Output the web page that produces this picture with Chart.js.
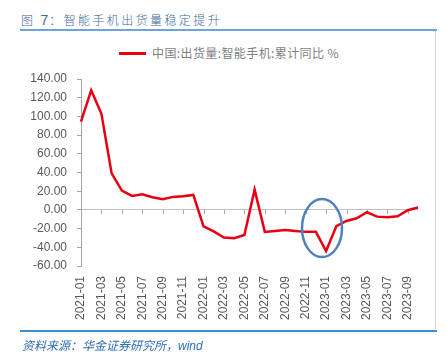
<!DOCTYPE html>
<html><head><meta charset="utf-8">
<script src="https://cdn.jsdelivr.net/npm/chart.js@4/dist/chart.umd.min.js"></script>
<style>
html,body{margin:0;padding:0;background:#fff;width:446px;height:362px;overflow:hidden;font-family:"Liberation Sans",Arial,sans-serif;}
#title{position:absolute;left:21px;top:11px;font-size:12px;color:#4069a0;letter-spacing:2.4px;white-space:nowrap;font-weight:300;font-family:"Noto Sans CJK SC","Liberation Sans",sans-serif;}
#title b{font-family:"Liberation Sans",Arial,sans-serif;font-size:14px;letter-spacing:1px;}
#topline{position:absolute;left:20px;top:29px;width:417px;height:2px;background:#6aa6d8;}
#botline{position:absolute;left:20px;top:330px;width:417px;height:2px;background:#3d8fd1;}
#vline{position:absolute;left:435px;top:31px;width:1px;height:298px;background:#d0d0d0;}
#src{position:absolute;left:22px;top:336px;font-size:12px;color:#2f6db5;font-style:italic;white-space:nowrap;font-family:"Noto Sans CJK SC","Liberation Sans",sans-serif;}
#src i{font-family:"Liberation Sans",Arial,sans-serif;}
#legend{position:absolute;left:119px;top:44px;font-size:12px;color:#7f7f7f;white-space:nowrap;font-family:"Noto Sans CJK SC",sans-serif;letter-spacing:0.4px;}
#legend span.sw{display:inline-block;width:27px;height:3px;background:#e60012;vertical-align:middle;margin-right:6px;position:relative;top:-1px;}
canvas{position:absolute;left:0;top:0;}
</style></head>
<body>
<div id="title">图 <b>7</b>：智能手机出货量稳定提升</div>
<div id="topline"></div>
<div id="vline"></div>
<div id="legend"><span class="sw"></span>中国:出货量:智能手机:累计同比 %</div>
<canvas id="c" width="446" height="362"></canvas>
<div id="botline"></div>
<div id="src">资料来源：华金证券研究所，<i>wind</i></div>
<script>
const categories = ["2021-01","2021-02","2021-03","2021-04","2021-05","2021-06","2021-07","2021-08","2021-09","2021-10","2021-11","2021-12",
"2022-01","2022-02","2022-03","2022-04","2022-05","2022-06","2022-07","2022-08","2022-09","2022-10","2022-11","2022-12",
"2023-01","2023-02","2023-03","2023-04","2023-05","2023-06","2023-07","2023-08","2023-09","2023-10"];
const seriesName = "中国:出货量:智能手机:累计同比 %";
const values = [94.4,128,102.7,39,20.6,15,16.7,13.5,11.3,13.9,14.6,16,
-17.5,-22.9,-29.6,-30.3,-26.8,21.7,-23.5,-22.5,-21.4,-22.5,-23.5,-23.5,
-44,-17.5,-11.8,-9,-2.5,-7.2,-7.9,-6.8,-0.4,2.5];
const yTicks = {min:-60, max:140, step:20};
const highlight = {from:"2022-12", to:"2023-01", frac:0.6, value:-20};

const extras = {
  id:'extras',
  beforeDatasetsDraw(chart){
    const ctx = chart.ctx, x = chart.scales.x, y = chart.scales.y;
    const y0 = y.getPixelForValue(0);
    ctx.save();
    ctx.strokeStyle = '#a6a6a6';
    ctx.lineWidth = 1;
    categories.forEach((c,i)=>{
      if(i%2===0 && i>0){
        const px = Math.round(x.getPixelForValue(i))+0.5;
        ctx.beginPath(); ctx.moveTo(px,y0); ctx.lineTo(px,y0+4); ctx.stroke();
      }
    });
    ctx.restore();
  },
  afterDatasetsDraw(chart){
    const ctx = chart.ctx, x = chart.scales.x, y = chart.scales.y;
    const i1 = categories.indexOf(highlight.from), i2 = categories.indexOf(highlight.to);
    const cx = x.getPixelForValue(i1) + (x.getPixelForValue(i2)-x.getPixelForValue(i1))*highlight.frac;
    const cy = y.getPixelForValue(highlight.value) - 0.5;
    ctx.save();
    ctx.strokeStyle = '#4f81bd';
    ctx.lineWidth = 2.5;
    ctx.beginPath();
    ctx.ellipse(cx, cy, 20, 29, 0, 0, Math.PI*2);
    ctx.stroke();
    ctx.restore();
  }
};

new Chart(document.getElementById('c'), {
  type:'line',
  data:{labels:categories, datasets:[{label:seriesName, data:values, borderColor:'#e60012', borderWidth:2.5, pointRadius:0, tension:0, fill:false}]},
  options:{
    responsive:false, animation:false,
    layout:{padding:{top:79, left:0, right:28, bottom:42}},
    plugins:{legend:{display:false}, tooltip:{enabled:false}},
    scales:{
      x:{
        offset:false,
        grid:{display:false, drawTicks:false},
        border:{display:false},
        ticks:{autoSkip:false, maxRotation:90, minRotation:90, padding:10, color:'#595959',
          font:{family:'"Liberation Sans", Arial, sans-serif', size:12},
          callback:(v,i)=> i%2===0 ? categories[i] : ''},
        afterFit(s){ s.height = 54; }
      },
      y:{
        min:yTicks.min, max:yTicks.max,
        grid:{drawOnChartArea:true, color:(c)=> c.tick && c.tick.value===0 ? '#bfbfbf' : 'rgba(0,0,0,0)', drawTicks:true, tickLength:4, tickColor:'#a6a6a6', lineWidth:1},
        border:{display:true, color:'#a6a6a6'},
        ticks:{stepSize:yTicks.step, padding:10, color:'#595959', font:{family:'"Liberation Sans", Arial, sans-serif', size:12},
          callback:(v)=> Number(v).toFixed(2)},
        afterFit(s){ s.width = 81; }
      }
    }
  },
  plugins:[extras]
});
</script>
</body></html>
